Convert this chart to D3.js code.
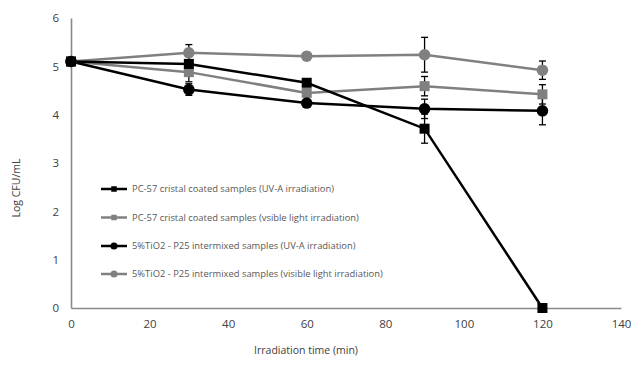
<!DOCTYPE html>
<html><head><meta charset="utf-8">
<script src="https://cdn.jsdelivr.net/npm/d3@7"></script>
<style>body{margin:0;background:#fff}svg{display:block}</style>
</head><body>
<svg id="c" width="631" height="369"></svg>
<script>
const times = [0, 30, 60, 90, 120];
const seriesNames = [
  "PC-57 cristal coated samples (UV-A irradiation)",
  "PC-57 cristal coated samples (vsible light irradiation)",
  "5%TiO2 - P25 intermixed samples (UV-A irradiation)",
  "5%TiO2 - P25 intermixed samples (visible light irradiation)"
];
const pcUV = [5.1, 5.05, 4.66, 3.71, 0];
const pcVis = [5.1, 4.88, 4.45, 4.59, 4.42];
const p25UV = [5.1, 4.52, 4.24, 4.12, 4.08];
const p25Vis = [5.1, 5.28, 5.21, 5.24, 4.92];
const pcUVErr = [0, 0, 0, 0.3, 0];
const pcVisErr = [0, 0.2, 0, 0.2, 0.2];
const p25UVErr = [0, 0.12, 0, 0.2, 0.29];
const p25VisErr = [0, 0.17, 0, 0.36, 0.19];
const xTicks = [0, 20, 40, 60, 80, 100, 120, 140];
const yTicks = [0, 1, 2, 3, 4, 5, 6];
const xTitle = "Irradiation time (min)";
const yTitle = "Log CFU/mL";

const series = [
  {name: seriesNames[1], vals: pcVis, err: pcVisErr, color: "#808080", shape: "square"},
  {name: seriesNames[3], vals: p25Vis, err: p25VisErr, color: "#808080", shape: "circle"},
  {name: seriesNames[0], vals: pcUV, err: pcUVErr, color: "#000000", shape: "square"},
  {name: seriesNames[2], vals: p25UV, err: p25UVErr, color: "#000000", shape: "circle"}
];
const legendOrder = [2, 0, 3, 1];

const svg = d3.select("#c");
const font = "'Open Sans', 'Liberation Sans', sans-serif";
const x = d3.scaleLinear().domain([0, 140]).range([71, 621]);
const y = d3.scaleLinear().domain([0, 6]).range([308, 18]);

// axes
const xAxis = svg.append("g").attr("transform", `translate(0,${y(0)})`)
  .call(d3.axisBottom(x).tickValues(xTicks).tickFormat(d3.format("d")).tickSize(0).tickPadding(12));
const yAxis = svg.append("g").attr("transform", `translate(${x(0)},0)`)
  .call(d3.axisLeft(y).tickValues(yTicks).tickFormat(d3.format("d")).tickSize(0).tickPadding(12));
[xAxis, yAxis].forEach(a => {
  a.select(".domain").attr("stroke", "#8a8a8a").attr("stroke-width", 1.6);
  a.selectAll("text").attr("fill", "#404040").style("font-family", font).style("font-size", "11.5px");
});

svg.append("text").attr("x", 306).attr("y", 354).attr("text-anchor", "middle")
  .attr("fill", "#404040").style("font-family", font).style("font-size", "10.5px").text(xTitle);
svg.append("text").attr("transform", `translate(20,188) rotate(-90)`).attr("text-anchor", "middle")
  .attr("fill", "#404040").style("font-family", font).style("font-size", "10.5px").text(yTitle);

// error bars
series.forEach(s => {
  const g = svg.append("g");
  s.vals.forEach((v, i) => {
    const e = s.err[i];
    if (!e) return;
    const cx = x(times[i]);
    g.append("line").attr("x1", cx).attr("x2", cx).attr("y1", y(v - e)).attr("y2", y(v + e))
      .attr("stroke", "#000").attr("stroke-width", 1.3);
    [v - e, v + e].forEach(t => g.append("line").attr("x1", cx - 3.5).attr("x2", cx + 3.5)
      .attr("y1", y(t)).attr("y2", y(t)).attr("stroke", "#000").attr("stroke-width", 1.3));
  });
});

// lines
const line = d3.line().x((d, i) => x(times[i])).y(d => y(d));
series.forEach(s => {
  svg.append("path").attr("d", line(s.vals)).attr("fill", "none")
    .attr("stroke", s.color).attr("stroke-width", 2.5);
});

function marker(g, shape, cx, cy, size, color) {
  if (shape === "square") {
    g.append("rect").attr("x", cx - size / 2).attr("y", cy - size / 2)
      .attr("width", size).attr("height", size).attr("fill", color);
  } else {
    g.append("circle").attr("cx", cx).attr("cy", cy).attr("r", size / 2 + 0.8).attr("fill", color);
  }
}
series.forEach(s => {
  const g = svg.append("g");
  s.vals.forEach((v, i) => marker(g, s.shape, x(times[i]), y(v), 10, s.color));
});

// legend
const leg = svg.append("g");
const ly = [189, 217.5, 246, 274];
legendOrder.forEach((si, k) => {
  const s = series[si];
  leg.append("line").attr("x1", 101).attr("x2", 127).attr("y1", ly[k]).attr("y2", ly[k])
    .attr("stroke", s.color).attr("stroke-width", 2.5);
  marker(leg, s.shape, 114, ly[k], 5.5, s.color);
  leg.append("text").attr("x", 132).attr("y", ly[k]).attr("dy", "0.35em")
    .attr("fill", "#595959").style("font-family", font).style("font-size", "9.4px").text(s.name);
});
</script>
</body></html>
